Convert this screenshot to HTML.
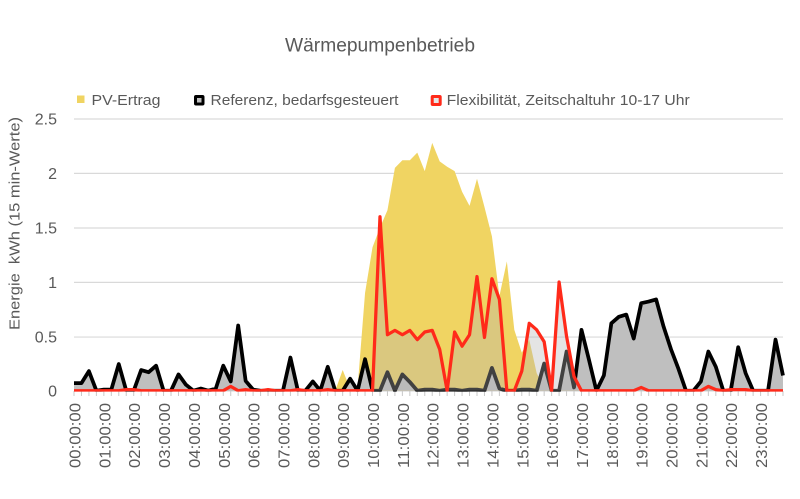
<!DOCTYPE html>
<html><head><meta charset="utf-8"><style>
html,body{margin:0;padding:0;background:#fff;}
svg{display:block;}
text{font-family:"Liberation Sans",sans-serif;fill:#595959;}
</style></head><body>
<svg width="800" height="499" viewBox="0 0 800 499" xmlns="http://www.w3.org/2000/svg">
<defs><clipPath id="c"><rect x="60" y="100" width="740" height="291.6"/></clipPath></defs>
<rect width="800" height="499" fill="#fff"/>
<text x="380" y="51.5" font-size="19" text-anchor="middle" textLength="190" lengthAdjust="spacingAndGlyphs">Wärmepumpenbetrieb</text>

<rect x="77" y="95.5" width="7.5" height="7.5" fill="#F0D462"/>
<text x="91.5" y="105" font-size="15" textLength="69" lengthAdjust="spacingAndGlyphs">PV-Ertrag</text>
<rect x="195.5" y="96.5" width="7.5" height="7.5" fill="#BFBFBF" stroke="#000" stroke-width="3" rx="0.5"/>
<text x="210.5" y="105" font-size="15" textLength="188" lengthAdjust="spacingAndGlyphs">Referenz, bedarfsgesteuert</text>
<rect x="432.2" y="96.5" width="8" height="8" fill="#E6E6E6" stroke="#FF2A1A" stroke-width="3" rx="0.5"/>
<text x="446.7" y="105" font-size="15" textLength="243" lengthAdjust="spacingAndGlyphs">Flexibilität, Zeitschaltuhr 10-17 Uhr</text>

<g stroke="#D9D9D9" stroke-width="1.2">
<line x1="74" y1="119" x2="783" y2="119"/>
<line x1="74" y1="173.35" x2="783" y2="173.35"/>
<line x1="74" y1="228" x2="783" y2="228"/>
<line x1="74" y1="282.4" x2="783" y2="282.4"/>
<line x1="74" y1="337.05" x2="783" y2="337.05"/>
<line x1="74" y1="391" x2="783" y2="391"/>
</g>
<g transform="translate(74,0) scale(7.463,1)">
<path vector-effect="non-scaling-stroke" stroke="#C8C8C8" stroke-width="1" fill="none" d="M0 391V396M1 391V396M2 391V396M3 391V396M4 391V396M5 391V396M6 391V396M7 391V396M8 391V396M9 391V396M10 391V396M11 391V396M12 391V396M13 391V396M14 391V396M15 391V396M16 391V396M17 391V396M18 391V396M19 391V396M20 391V396M21 391V396M22 391V396M23 391V396M24 391V396M25 391V396M26 391V396M27 391V396M28 391V396M29 391V396M30 391V396M31 391V396M32 391V396M33 391V396M34 391V396M35 391V396M36 391V396M37 391V396M38 391V396M39 391V396M40 391V396M41 391V396M42 391V396M43 391V396M44 391V396M45 391V396M46 391V396M47 391V396M48 391V396M49 391V396M50 391V396M51 391V396M52 391V396M53 391V396M54 391V396M55 391V396M56 391V396M57 391V396M58 391V396M59 391V396M60 391V396M61 391V396M62 391V396M63 391V396M64 391V396M65 391V396M66 391V396M67 391V396M68 391V396M69 391V396M70 391V396M71 391V396M72 391V396M73 391V396M74 391V396M75 391V396M76 391V396M77 391V396M78 391V396M79 391V396M80 391V396M81 391V396M82 391V396M83 391V396M84 391V396M85 391V396M86 391V396M87 391V396M88 391V396M89 391V396M90 391V396M91 391V396M92 391V396M93 391V396M94 391V396M95 391V396"/>
</g>

<g clip-path="url(#c)">
<g transform="translate(74,390.7) scale(7.463,-108.7)">
<polygon fill="#F0D462" points="34,0 35,0 36,0.19 37,0.02 38,0.03 39,0.9 40,1.32 41,1.5 42,1.66 43,2.05 44,2.12 45,2.12 46,2.19 47,2.02 48,2.28 49,2.11 50,2.06 51,2.02 52,1.83 53,1.7 54,1.95 55,1.69 56,1.42 57,0.87 58,1.19 59,0.56 60,0.35 61,0.47 62,0.16 63,0.03 64,0.02 65,0.01 66,0.01 67,0.01 68,0"/>
<polygon fill="#BFBFBF" points="0,0.07 1,0.07 2,0.18 3,0 4,0.01 5,0.01 6,0.245 7,0 8,0 9,0.19 10,0.17 11,0.23 12,0 13,0 14,0.15 15,0.055 16,0 17,0.02 18,0 19,0.02 20,0.23 21,0.085 22,0.6 23,0.09 24,0.01 25,0 26,0 27,0 28,0 29,0.305 30,0 31,0 32,0.085 33,0 34,0.22 35,0 36,0 37,0.11 38,0 39,0.29 40,0 41,0 42,0.17 43,0 44,0.15 45,0.08 46,0 47,0.01 48,0.01 49,0 50,0.01 51,0.01 52,0 53,0.01 54,0.01 55,0 56,0.21 57,0.02 58,0 59,0 60,0.01 61,0.01 62,0 63,0.25 64,0 65,0 66,0.36 67,0.03 68,0.56 69,0.285 70,0 71,0.14 72,0.62 73,0.68 74,0.7 75,0.48 76,0.805 77,0.82 78,0.84 79,0.59 80,0.38 81,0.2 82,0 83,0 84,0.085 85,0.36 86,0.22 87,0 88,0 89,0.4 90,0.16 91,0 92,0 93,0 94,0.47 95,0.14 95,0 0,0"/>
<polyline fill="none" stroke="#000" stroke-width="3.75" stroke-linejoin="round" vector-effect="non-scaling-stroke" points="0,0.07 1,0.07 2,0.18 3,0 4,0.01 5,0.01 6,0.245 7,0 8,0 9,0.19 10,0.17 11,0.23 12,0 13,0 14,0.15 15,0.055 16,0 17,0.02 18,0 19,0.02 20,0.23 21,0.085 22,0.6 23,0.09 24,0.01 25,0 26,0 27,0 28,0 29,0.305 30,0 31,0 32,0.085 33,0 34,0.22 35,0 36,0 37,0.11 38,0 39,0.29 40,0 41,0 42,0.17 43,0 44,0.15 45,0.08 46,0 47,0.01 48,0.01 49,0 50,0.01 51,0.01 52,0 53,0.01 54,0.01 55,0 56,0.21 57,0.02 58,0 59,0 60,0.01 61,0.01 62,0 63,0.25 64,0 65,0 66,0.36 67,0.03 68,0.56 69,0.285 70,0 71,0.14 72,0.62 73,0.68 74,0.7 75,0.48 76,0.805 77,0.82 78,0.84 79,0.59 80,0.38 81,0.2 82,0 83,0 84,0.085 85,0.36 86,0.22 87,0 88,0 89,0.4 90,0.16 91,0 92,0 93,0 94,0.47 95,0.14"/>
<polygon fill="#B4B4B4" fill-opacity="0.36" points="0,0 6,0 7,0.01 8,0.01 9,0 20,0 21,0.04 22,0 23,0.01 24,0 25,0 26,0.01 27,0 29,0 30,0.01 31,0 33,0 34,0.01 35,0 40,0 41,1.6 42,0.515 43,0.555 44,0.515 45,0.555 46,0.47 47,0.54 48,0.555 49,0.38 50,0 51,0.54 52,0.41 53,0.515 54,1.05 55,0.49 56,1.03 57,0.84 58,0 59,0 60,0.18 61,0.62 62,0.56 63,0.45 64,0 65,1 66,0.5 67,0.13 68,0 75,0 76,0.03 77,0 84,0 85,0.04 86,0.01 87,0 88,0.01 89,0.01 90,0.01 91,0 95,0"/>
<polyline fill="none" stroke="#FF2A1A" stroke-width="3.25" stroke-linejoin="round" vector-effect="non-scaling-stroke" points="0,0 6,0 7,0.01 8,0.01 9,0 20,0 21,0.04 22,0 23,0.01 24,0 25,0 26,0.01 27,0 29,0 30,0.01 31,0 33,0 34,0.01 35,0 40,0 41,1.6 42,0.515 43,0.555 44,0.515 45,0.555 46,0.47 47,0.54 48,0.555 49,0.38 50,0 51,0.54 52,0.41 53,0.515 54,1.05 55,0.49 56,1.03 57,0.84 58,0 59,0 60,0.18 61,0.62 62,0.56 63,0.45 64,0 65,1 66,0.5 67,0.13 68,0 75,0 76,0.03 77,0 84,0 85,0.04 86,0.01 87,0 88,0.01 89,0.01 90,0.01 91,0 95,0"/>
</g>
</g>

<g font-size="16" text-anchor="end">
<text x="57" y="124.7">2.5</text>
<text x="57" y="179">2</text>
<text x="57" y="233.7">1.5</text>
<text x="57" y="288.1">1</text>
<text x="57" y="342.7">0.5</text>
<text x="57" y="396.4">0</text>
</g>

<text transform="translate(19.5,223.5) rotate(-90)" font-size="15" text-anchor="middle" textLength="213" lengthAdjust="spacingAndGlyphs" style="white-space:pre">Energie  kWh (15 min-Werte)</text>

<g font-size="16" text-anchor="end">
<text transform="translate(80.5,403) rotate(-90)" textLength="65" lengthAdjust="spacingAndGlyphs">00:00:00</text>
<text transform="translate(110.35,403) rotate(-90)" textLength="65" lengthAdjust="spacingAndGlyphs">01:00:00</text>
<text transform="translate(140.2,403) rotate(-90)" textLength="65" lengthAdjust="spacingAndGlyphs">02:00:00</text>
<text transform="translate(170.06,403) rotate(-90)" textLength="65" lengthAdjust="spacingAndGlyphs">03:00:00</text>
<text transform="translate(199.91,403) rotate(-90)" textLength="65" lengthAdjust="spacingAndGlyphs">04:00:00</text>
<text transform="translate(229.76,403) rotate(-90)" textLength="65" lengthAdjust="spacingAndGlyphs">05:00:00</text>
<text transform="translate(259.61,403) rotate(-90)" textLength="65" lengthAdjust="spacingAndGlyphs">06:00:00</text>
<text transform="translate(289.46,403) rotate(-90)" textLength="65" lengthAdjust="spacingAndGlyphs">07:00:00</text>
<text transform="translate(319.32,403) rotate(-90)" textLength="65" lengthAdjust="spacingAndGlyphs">08:00:00</text>
<text transform="translate(349.17,403) rotate(-90)" textLength="65" lengthAdjust="spacingAndGlyphs">09:00:00</text>
<text transform="translate(379.02,403) rotate(-90)" textLength="65" lengthAdjust="spacingAndGlyphs">10:00:00</text>
<text transform="translate(408.87,403) rotate(-90)" textLength="65" lengthAdjust="spacingAndGlyphs">11:00:00</text>
<text transform="translate(438.72,403) rotate(-90)" textLength="65" lengthAdjust="spacingAndGlyphs">12:00:00</text>
<text transform="translate(468.58,403) rotate(-90)" textLength="65" lengthAdjust="spacingAndGlyphs">13:00:00</text>
<text transform="translate(498.43,403) rotate(-90)" textLength="65" lengthAdjust="spacingAndGlyphs">14:00:00</text>
<text transform="translate(528.28,403) rotate(-90)" textLength="65" lengthAdjust="spacingAndGlyphs">15:00:00</text>
<text transform="translate(558.13,403) rotate(-90)" textLength="65" lengthAdjust="spacingAndGlyphs">16:00:00</text>
<text transform="translate(587.98,403) rotate(-90)" textLength="65" lengthAdjust="spacingAndGlyphs">17:00:00</text>
<text transform="translate(617.84,403) rotate(-90)" textLength="65" lengthAdjust="spacingAndGlyphs">18:00:00</text>
<text transform="translate(647.69,403) rotate(-90)" textLength="65" lengthAdjust="spacingAndGlyphs">19:00:00</text>
<text transform="translate(677.54,403) rotate(-90)" textLength="65" lengthAdjust="spacingAndGlyphs">20:00:00</text>
<text transform="translate(707.39,403) rotate(-90)" textLength="65" lengthAdjust="spacingAndGlyphs">21:00:00</text>
<text transform="translate(737.24,403) rotate(-90)" textLength="65" lengthAdjust="spacingAndGlyphs">22:00:00</text>
<text transform="translate(767.1,403) rotate(-90)" textLength="65" lengthAdjust="spacingAndGlyphs">23:00:00</text>
</g>
</svg>
</body></html>
